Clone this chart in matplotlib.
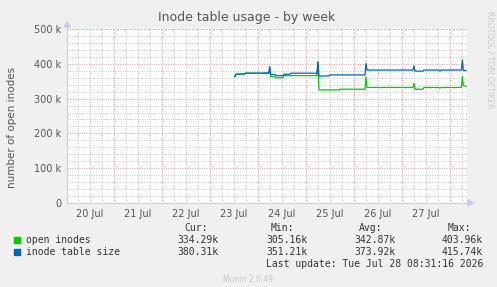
import matplotlib
matplotlib.use("Agg")
import matplotlib.pyplot as plt


# =========================
# データ (時刻: 7/20 00:00 からの時間, 値: k)
# =========================

size_hours = [84.4, 85.0, 89.4, 89.7, 99.0, 99.5, 101.4, 101.9, 102.4, 104.5,
              105.0, 108.5, 109.0, 112.0, 112.5, 125.5, 126.0, 126.5, 131.5,
              132.0, 149.5, 150.0, 150.5, 173.5, 174.0, 174.5, 178.5, 179.0,
              186.5, 187.0, 187.5, 197.7, 198.2, 198.7, 200.0]
size_vals = [363, 370, 371, 373, 373, 374, 374, 392, 369, 369,
             366, 366, 370, 370, 373, 373, 406, 365, 365,
             368, 368, 401, 382, 382, 394, 379, 379, 382,
             382, 379, 382, 382, 411, 381, 380.3]

open_hours = [84.4, 85.0, 89.4, 89.7, 99.0, 99.5, 101.4, 101.9, 102.4, 104.5,
              105.0, 108.5, 109.0, 125.5, 126.0, 126.5, 136.5, 137.0, 149.5,
              150.0, 150.5, 173.5, 174.0, 174.5, 178.5, 179.0, 186.5, 187.0,
              187.5, 197.7, 198.2, 198.7, 199.5, 200.0]
open_vals = [363, 370, 371, 373, 373, 372, 372, 386, 363, 363,
             360, 360, 366, 366, 404, 325, 325, 327, 327,
             362, 332, 332, 344, 327, 327, 332, 332, 330,
             332, 332, 363, 337, 337, 334.3]

day_labels = ["20 Jul", "21 Jul", "22 Jul", "23 Jul",
              "24 Jul", "25 Jul", "26 Jul", "27 Jul"]

y_ticks = [0, 100, 200, 300, 400, 500]
y_labels = ["0", "100 k", "200 k", "300 k", "400 k", "500 k"]

series_names = ["open inodes", "inode table size"]
series_colors = ["#00CC00", "#0066B3"]
cur_vals = ["334.29k", "380.31k"]
min_vals = ["305.16k", "351.21k"]
avg_vals = ["342.87k", "373.92k"]
max_vals = ["403.96k", "415.74k"]


# =========================
# 図
# =========================

W, H = 497, 287
fig = plt.figure(figsize=(W / 100, H / 100), dpi=100, facecolor="#F0F0F0")

x0, x1 = 67, 467
y_top, y_bot = 29, 203
ax = fig.add_axes([x0 / W, 1 - y_bot / H, (x1 - x0) / W, (y_bot - y_top) / H])
ax.set_facecolor("#FFFFFF")

t_start = 0.52
ax.set_xlim(t_start, t_start + 200)
ax.set_ylim(0, 500)

for s in ax.spines.values():
    s.set_visible(False)

# grid
dot = (0, (1, 1.4))
for h in range(6, 204, 6):
    if h % 24 == 0:
        ax.axvline(h, color="#E4A0A0", lw=0.72, linestyle=dot, zorder=1)
    else:
        ax.axvline(h, color="#CCCCCC", lw=0.72, linestyle=dot, zorder=0)
for v in range(20, 520, 20):
    if v % 100 == 0:
        ax.axhline(v, color="#E4A0A0", lw=0.72, linestyle=dot, zorder=1)
    else:
        ax.axhline(v, color="#CCCCCC", lw=0.72, linestyle=dot, zorder=0)

# data
ax.plot(open_hours, open_vals, color=series_colors[0], lw=0.9, zorder=3)
ax.plot(size_hours, size_vals, color=series_colors[1], lw=0.9, zorder=4)

# axes
ax.set_xticks([12 + 24 * i for i in range(len(day_labels))])
ax.set_xticklabels(day_labels)
ax.set_yticks(y_ticks)
ax.set_yticklabels(y_labels)
ax.tick_params(length=0, colors="#555555", labelsize=7, pad=4)

axis_c = "#C8C8F0"
fig.add_artist(plt.Line2D([x0 / W, (x1 + 3) / W], [1 - y_bot / H] * 2,
                          color=axis_c, lw=0.8))
fig.add_artist(plt.Line2D([x0 / W] * 2, [1 - y_bot / H, 1 - (y_top - 4) / H],
                          color=axis_c, lw=0.8))
fig.add_artist(plt.Polygon([[(x1 + 1) / W, 1 - (y_bot - 3) / H],
                            [(x1 + 1) / W, 1 - (y_bot + 3) / H],
                            [(x1 + 6) / W, 1 - y_bot / H]],
                           closed=True, color=axis_c))
fig.add_artist(plt.Polygon([[(x0 - 3) / W, 1 - (y_top - 2) / H],
                            [(x0 + 3) / W, 1 - (y_top - 2) / H],
                            [x0 / W, 1 - (y_top - 7) / H]],
                           closed=True, color=axis_c))

# texts
fig.text(247 / W, 1 - 18 / H, "Inode table usage - by week",
         ha="center", va="center", fontsize=9, color="#555555")
fig.text(12 / W, 1 - 127 / H, "number of open inodes", rotation=90,
         ha="center", va="center", fontsize=7.5, color="#555555")
fig.text(490 / W, 1 - 60 / H, "RRDTOOL / TOBI OETIKER", rotation=270,
         ha="center", va="center", fontsize=5.5, color="#C8C8C8")
fig.text(248 / W, 1 - 279 / H, "Munin 2.0.49",
         ha="center", va="center", fontsize=5.5, color="#C8C8C8")

mono = dict(family="DejaVu Sans Mono", fontsize=7, color="#333333",
            va="center")

for xr, lab in zip([208, 294, 382, 471], ["Cur:", "Min:", "Avg:", "Max:"]):
    fig.text(xr / W, 1 - 228 / H, lab, ha="right", **mono)

for i in range(len(series_names)):
    yy = 240 + 12 * i
    fig.add_artist(plt.Rectangle((14 / W, 1 - (yy + 3) / H), 6 / W, 6 / H,
                                 color=series_colors[i]))
    fig.text(26 / W, 1 - yy / H, series_names[i], ha="left", **mono)
    for xr, vals in zip([218, 307, 395, 483],
                        [cur_vals, min_vals, avg_vals, max_vals]):
        fig.text(xr / W, 1 - yy / H, vals[i], ha="right", **mono)

fig.text(483 / W, 1 - 264 / H, "Last update: Tue Jul 28 08:31:16 2026",
         ha="right", **mono)

fig.savefig("out.png", dpi=100, facecolor=fig.get_facecolor())
